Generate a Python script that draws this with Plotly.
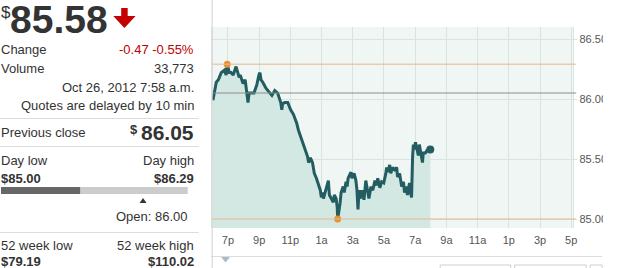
import plotly.graph_objects as go

W, H = 622, 268

# ---- data ----
times = [
    "2012-10-25 18:02", "2012-10-25 18:08", "2012-10-25 18:15", "2012-10-25 18:23", "2012-10-25 18:34",
    "2012-10-25 18:46", "2012-10-25 18:53", "2012-10-25 18:57", "2012-10-25 19:05", "2012-10-25 19:12",
    "2012-10-25 19:20", "2012-10-25 19:31", "2012-10-25 19:43", "2012-10-25 19:47", "2012-10-25 19:58",
    "2012-10-25 20:06", "2012-10-25 20:13", "2012-10-25 20:17", "2012-10-25 20:21", "2012-10-25 20:29",
    "2012-10-25 20:40", "2012-10-25 20:48", "2012-10-25 20:51", "2012-10-25 20:59", "2012-10-25 21:03",
    "2012-10-25 21:07", "2012-10-25 21:14", "2012-10-25 21:26", "2012-10-25 21:37", "2012-10-25 21:49",
    "2012-10-25 22:00", "2012-10-25 22:11", "2012-10-25 22:23", "2012-10-25 22:27", "2012-10-25 22:30",
    "2012-10-25 22:38", "2012-10-25 22:50", "2012-10-25 23:01", "2012-10-25 23:12", "2012-10-25 23:24",
    "2012-10-25 23:31", "2012-10-25 23:43", "2012-10-25 23:54", "2012-10-26 00:02", "2012-10-26 00:06",
    "2012-10-26 00:10", "2012-10-26 00:17", "2012-10-26 00:25", "2012-10-26 00:32", "2012-10-26 00:40",
    "2012-10-26 00:44", "2012-10-26 00:51", "2012-10-26 00:55", "2012-10-26 00:59", "2012-10-26 01:03",
    "2012-10-26 01:07", "2012-10-26 01:14", "2012-10-26 01:22", "2012-10-26 01:26", "2012-10-26 01:30",
    "2012-10-26 01:37", "2012-10-26 01:45", "2012-10-26 01:49", "2012-10-26 01:56", "2012-10-26 02:00",
    "2012-10-26 02:02", "2012-10-26 02:11", "2012-10-26 02:15", "2012-10-26 02:23", "2012-10-26 02:27",
    "2012-10-26 02:34", "2012-10-26 02:38", "2012-10-26 02:42", "2012-10-26 02:50", "2012-10-26 02:53",
    "2012-10-26 02:57", "2012-10-26 03:05", "2012-10-26 03:12", "2012-10-26 03:16", "2012-10-26 03:20",
    "2012-10-26 03:24", "2012-10-26 03:28", "2012-10-26 03:35", "2012-10-26 03:43", "2012-10-26 03:47",
    "2012-10-26 03:50", "2012-10-26 03:58", "2012-10-26 04:02", "2012-10-26 04:10", "2012-10-26 04:17",
    "2012-10-26 04:25", "2012-10-26 04:32", "2012-10-26 04:36", "2012-10-26 04:44", "2012-10-26 04:51",
    "2012-10-26 04:59", "2012-10-26 05:07", "2012-10-26 05:10", "2012-10-26 05:14", "2012-10-26 05:22",
    "2012-10-26 05:26", "2012-10-26 05:33", "2012-10-26 05:41", "2012-10-26 05:49", "2012-10-26 05:52",
    "2012-10-26 06:00", "2012-10-26 06:08", "2012-10-26 06:15", "2012-10-26 06:19", "2012-10-26 06:27",
    "2012-10-26 06:30", "2012-10-26 06:38", "2012-10-26 06:42", "2012-10-26 06:46", "2012-10-26 06:50",
    "2012-10-26 06:53", "2012-10-26 06:57", "2012-10-26 07:01", "2012-10-26 07:09", "2012-10-26 07:12",
    "2012-10-26 07:16", "2012-10-26 07:24", "2012-10-26 07:28", "2012-10-26 07:31", "2012-10-26 07:39",
    "2012-10-26 07:47", "2012-10-26 07:50", "2012-10-26 07:58",
]
prices = [
    85.99, 86.06, 86.14, 86.16, 86.22,
    86.24, 86.20, 86.29, 86.22, 86.22,
    86.20, 86.27, 86.18, 86.20, 86.13,
    86.16, 86.06, 85.97, 86.05, 86.05,
    86.05, 86.10, 86.12, 86.20, 86.22,
    86.16, 86.14, 86.09, 86.06, 86.03,
    86.07, 86.05, 85.97, 85.91, 85.96,
    85.97, 85.97, 85.91, 85.87, 85.80,
    85.74, 85.67, 85.60, 85.56, 85.52,
    85.47, 85.51, 85.47, 85.38, 85.34,
    85.31, 85.26, 85.24, 85.18, 85.22,
    85.17, 85.22, 85.28, 85.32, 85.20,
    85.17, 85.14, 85.20, 85.17, 85.10,
    85.00, 85.13, 85.22, 85.27, 85.22,
    85.31, 85.27, 85.34, 85.38, 85.39,
    85.34, 85.38, 85.32, 85.24, 85.08,
    85.24, 85.17, 85.24, 85.16, 85.30,
    85.32, 85.22, 85.17, 85.27, 85.24,
    85.32, 85.28, 85.34, 85.26, 85.31,
    85.30, 85.38, 85.43, 85.39, 85.45,
    85.38, 85.43, 85.41, 85.43, 85.35,
    85.38, 85.27, 85.31, 85.22, 85.27,
    85.20, 85.30, 85.22, 85.18, 85.52,
    85.62, 85.58, 85.64, 85.56, 85.53,
    85.62, 85.49, 85.47, 85.55, 85.55,
    85.58, 85.56, 85.58,
]

high_time, high_price = "2012-10-25 18:57", 86.29
low_time, low_price = "2012-10-26 02:02", 85.00
prev_close = 86.05

x_tickvals = ["2012-10-25 19:00", "2012-10-25 21:00", "2012-10-25 23:00", "2012-10-26 01:00",
              "2012-10-26 03:00", "2012-10-26 05:00", "2012-10-26 07:00", "2012-10-26 09:00",
              "2012-10-26 11:00", "2012-10-26 13:00", "2012-10-26 15:00", "2012-10-26 17:00"]
x_ticktext = ["7p", "9p", "11p", "1a", "3a", "5a", "7a", "9a", "11a", "1p", "3p", "5p"]
y_tickvals = [85.0, 85.5, 86.0, 86.5]
y_ticktext = ["85.00", "85.50", "86.00", "86.50"]

# quote panel texts
last_price = "85.58"
change_text = "-0.47 -0.55%"
volume_text = "33,773"
stamp_text = "Oct 26, 2012 7:58 a.m."
delay_text = "Quotes are delayed by 10 min"
prev_close_text = "86.05"
day_low_text, day_high_text = "$85.00", "$86.29"
open_text = "Open: 86.00"
wk_low_text, wk_high_text = "$79.19", "$110.02"

FONT = "Arial, 'Liberation Sans', sans-serif"
TXT = "#333333"
LINE = "#235d61"


def px(x, y):
    return x / W, 1 - y / H


fig = go.Figure()
fig.add_trace(go.Scatter(
    x=times, y=prices, mode="lines",
    line=dict(color=LINE, width=3),
    fill="tozeroy", fillcolor="#d3e7e3",
    hoverinfo="skip", showlegend=False,
))
fig.add_trace(go.Scatter(
    x=[high_time, low_time], y=[high_price, low_price], mode="markers",
    marker=dict(color="#e8922e", size=7), showlegend=False, hoverinfo="skip",
))
fig.add_trace(go.Scatter(
    x=[times[-1]], y=[prices[-1]], mode="markers",
    marker=dict(color=LINE, size=8), showlegend=False, hoverinfo="skip",
))

shapes = []
# reference lines
for yv, col in [(high_price, "#e6b98e"), (low_price, "#e6b98e"), (prev_close, "#8c8c8c")]:
    shapes.append(dict(type="line", xref="x domain", yref="y", x0=0, x1=1.008, y0=yv, y1=yv,
                       line=dict(color=col, width=1), layer="above"))

# panel dividers
def hline(y, x0, x1, col="#dddddd"):
    a0, b0 = px(x0, y)
    a1, _ = px(x1, y)
    shapes.append(dict(type="line", xref="paper", yref="paper", x0=a0, x1=a1, y0=b0, y1=b0,
                       line=dict(color=col, width=1)))

hline(118.5, 0, 200)
hline(146.5, 0, 200)
hline(232.5, 0, 200)
hline(256.5, 213, 606)
# vertical divider
shapes.append(dict(type="line", xref="paper", yref="paper", x0=213.5 / W, x1=213.5 / W, y0=0, y1=1,
                   line=dict(color="#d0d0d0", width=1)))

# day range bar
def rect(x0, y0, x1, y1, fill, line=None, layer="below"):
    a0, b0 = px(x0, y0)
    a1, b1 = px(x1, y1)
    d = dict(type="rect", xref="paper", yref="paper", x0=a0, x1=a1, y0=b1, y1=b0,
             fillcolor=fill, layer=layer, line=dict(width=0))
    if line:
        d["line"] = dict(color=line, width=1)
    shapes.append(d)

rect(1, 187, 81, 194, "#676767")
rect(81, 187, 189, 194, "#cccccc")

def path(points, fill):
    s = ""
    for i, (x, y) in enumerate(points):
        a, b = px(x, y)
        s += ("M" if i == 0 else "L") + f"{a:.5f},{b:.5f} "
    shapes.append(dict(type="path", xref="paper", yref="paper", path=s + "Z",
                       fillcolor=fill, line=dict(width=0)))

# open marker triangle
path([(140.5, 203), (147.5, 203), (144, 198)], "#333333")
# red down arrow
path([(122, 8), (128.5, 8), (128.5, 16), (136.5, 16), (125.2, 28), (114, 16), (122, 16)], "#c40000")
# small triangle under x axis
path([(222.5, 257), (231.5, 257), (227, 262.5)], "#a9bcc4")
# partial buttons at the bottom right
rect(443, 265, 514, 275, "rgba(0,0,0,0)", line="#cfcfcf")
rect(518, 265, 590, 275, "rgba(0,0,0,0)", line="#cfcfcf")
rect(594, 265, 606, 275, "rgba(0,0,0,0)", line="#cfcfcf")
# right clipping of the axis labels
rect(607, 0, 622, 255, "#ffffff", layer="above")

annotations = []

def txt(x, y, text, anchor="left", size=13, bold=False, color=TXT):
    a, b = px(x, y)
    annotations.append(dict(
        x=a, y=b, xref="paper", yref="paper", xanchor=anchor, yanchor="middle",
        text=f"<b>{text}</b>" if bold else text, showarrow=False,
        font=dict(family=FONT, size=size, color=color), borderpad=0, borderwidth=0,
    ))

txt(1, 13, "$", size=17)
txt(10, 19, last_price, size=39, bold=True)
txt(1, 50, "Change")
txt(195, 50, change_text, anchor="right", color="#c00000")
txt(1, 68, "Volume")
txt(195, 68, volume_text, anchor="right")
txt(195, 87, stamp_text, anchor="right")
txt(195, 106, delay_text, anchor="right")
txt(1, 132, "Previous close")
txt(131, 129, "$", size=13, bold=True)
txt(195, 133, prev_close_text, size=21, bold=True, anchor="right")
txt(1, 160, "Day low")
txt(195, 160, "Day high", anchor="right")
txt(1, 178, day_low_text, bold=True)
txt(195, 178, day_high_text, bold=True, anchor="right")
txt(189, 216, open_text, anchor="right")
txt(1, 245, "52 week low")
txt(195, 245, "52 week high", anchor="right")
txt(1, 261, wk_low_text, bold=True)
txt(195, 261, wk_high_text, bold=True, anchor="right")

fig.update_layout(
    width=W, height=H,
    margin=dict(l=0, r=0, t=0, b=0),
    paper_bgcolor="white", plot_bgcolor="#eff6f3",
    showlegend=False,
    shapes=shapes, annotations=annotations,
    xaxis=dict(
        domain=[213.5 / W, 577 / W],
        type="date",
        range=["2012-10-25 17:59", "2012-10-26 17:08"],
        tickvals=x_tickvals, ticktext=x_ticktext,
        tickfont=dict(family=FONT, size=11, color="#555555"),
        showgrid=True, gridcolor="#d9e3df", gridwidth=1,
        ticks="", ticklabelstandoff=4,
        showline=False, zeroline=False, fixedrange=True,
    ),
    yaxis=dict(
        domain=[40 / H, 241 / H],
        range=[84.925, 86.6],
        side="right",
        tickvals=y_tickvals, ticktext=y_ticktext,
        tickfont=dict(family=FONT, size=11, color="#555555"),
        showgrid=True, gridcolor="#d9e3df", gridwidth=1,
        ticks="outside", ticklen=3, tickcolor="#d9e3df",
        showline=True, linecolor="#dde5e2", mirror=True,
        zeroline=False, fixedrange=True,
    ),
)

fig.write_html("out.html", config={"displayModeBar": False})
